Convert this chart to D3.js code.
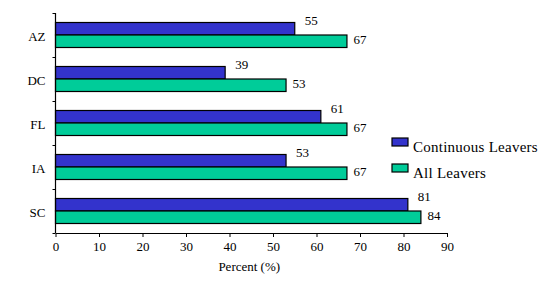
<!DOCTYPE html>
<meta charset="utf-8">
<script src="https://d3js.org/d3.v7.min.js"></script>
<style>
  body { margin: 0; background: #fff; }
  svg text { font-family: "Liberation Serif", "Times New Roman", Times, "DejaVu Serif", serif !important; fill: #000; }
</style>
<div id="chart"></div>
<script>
// data
var states = ["AZ", "DC", "FL", "IA", "SC"];
var continuousLeavers = [55, 39, 61, 53, 81];
var allLeavers = [67, 53, 67, 67, 84];
var seriesNames = ["Continuous Leavers", "All Leavers"];
var seriesColors = ["#3333cc", "#00cc99"];
var xTicks = [0, 10, 20, 30, 40, 50, 60, 70, 80, 90];

var width = 555, height = 281;

var svg = d3.select("#chart").append("svg")
    .attr("width", width)
    .attr("height", height);

// scales
var x = d3.scaleLinear().domain([0, 90]).range([55.5, 447]);
var y = d3.scaleBand().domain(states).range([13, 233]).padding(0);
var ySeries = d3.scaleBand().domain(seriesNames).range([0, y.bandwidth()]).paddingOuter(0.76).paddingInner(0);

var rows = states.map(function(s, i) {
  return {state: s, values: [continuousLeavers[i], allLeavers[i]]};
});

// bars
var groups = svg.selectAll("g.row")
  .data(rows)
  .enter().append("g")
    .attr("class", "row")
    .attr("transform", function(d) { return "translate(0," + y(d.state) + ")"; });

groups.selectAll("rect")
  .data(function(d) { return d.values.map(function(v, j) { return {name: seriesNames[j], value: v, j: j}; }); })
  .enter().append("rect")
    .attr("x", x(0))
    .attr("y", function(d) { return ySeries(d.name); })
    .attr("width", function(d) { return x(d.value) - x(0); })
    .attr("height", ySeries.bandwidth())
    .attr("fill", function(d) { return seriesColors[d.j]; })
    .attr("stroke", "#000")
    .attr("stroke-width", 1.2);

// value labels
groups.selectAll("text.val")
  .data(function(d) { return d.values.map(function(v, j) { return {name: seriesNames[j], value: v, j: j}; }); })
  .enter().append("text")
    .attr("class", "val")
    .attr("x", function(d) { return x(d.value) + (d.j === 0 ? 10 : 6.5); })
    .attr("y", function(d) { return ySeries(d.name) + ySeries.bandwidth() / 2 + (d.j === 0 ? -8 : -2); })
    .attr("dy", "0.35em")
    .style("font-size", "13px")
    .text(function(d) { return d.value; });

// y axis: labels on bands, ticks on boundaries
var yAxis = svg.append("g")
  .attr("transform", "translate(" + x(0) + ",2)")
  .call(d3.axisLeft(y).tickSize(0).tickPadding(10));
yAxis.select(".domain").remove();
yAxis.selectAll("text").style("font-size", "13px");

var yEdges = d3.scaleLinear().domain([0, states.length]).range([13, 233]);
var yTickAxis = svg.append("g")
  .attr("transform", "translate(" + x(0) + ",0)")
  .call(d3.axisLeft(yEdges).tickValues(d3.range(states.length + 1)).tickSize(3).tickFormat(""));
yTickAxis.select(".domain").attr("d", "M0," + yEdges(0) + "V" + yEdges(states.length)).attr("stroke-width", 1.2);

// x axis
var xAxis = svg.append("g")
  .attr("transform", "translate(0,233)")
  .call(d3.axisBottom(x).tickValues(xTicks).tickSize(4).tickSizeOuter(0).tickPadding(5));
xAxis.select(".domain").attr("stroke-width", 1.2);
xAxis.selectAll("text").style("font-size", "13px");

svg.append("text")
  .attr("x", (x(0) + x(90)) / 2 - 2)
  .attr("y", 271)
  .attr("text-anchor", "middle")
  .style("font-size", "13px")
  .text("Percent (%)");

// legend
var legend = svg.selectAll("g.legend")
  .data(seriesNames)
  .enter().append("g")
    .attr("class", "legend")
    .attr("transform", function(d, i) { return "translate(392," + (138 + i * 26) + ")"; });

legend.append("rect")
  .attr("width", 16)
  .attr("height", 8)
  .attr("fill", function(d, i) { return seriesColors[i]; })
  .attr("stroke", "#000")
  .attr("stroke-width", 1.2);

legend.append("text")
  .attr("x", 21)
  .attr("y", 14)
  .style("font-size", "15px")
  .style("letter-spacing", "0.25px")
  .text(function(d) { return d; });
</script>
